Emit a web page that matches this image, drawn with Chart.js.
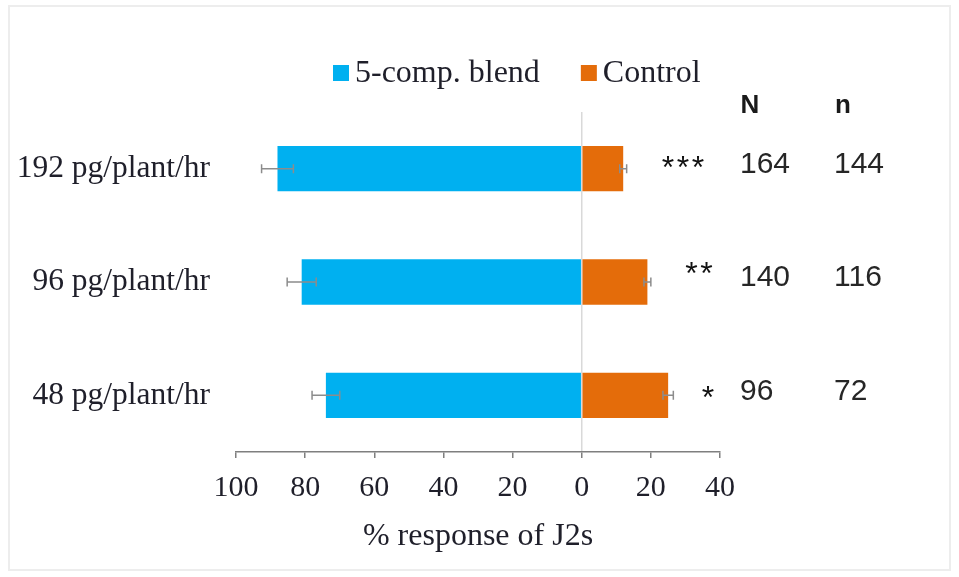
<!DOCTYPE html>
<html>
<head>
<meta charset="utf-8">
<script src="https://cdn.jsdelivr.net/npm/chart.js@4"></script>
<style>
  html, body { margin: 0; padding: 0; background: #fff; }
  #wrap { width: 959px; height: 577px; position: relative; }
</style>
</head>
<body>
<div id="wrap"><canvas id="c" width="959" height="577"></canvas></div>
<script>
// Dose categories (top to bottom)
const doses = ['192 pg/plant/hr', '96 pg/plant/hr', '48 pg/plant/hr'];
// % of J2s choosing each arm, with error
const blendPct = [88, 81, 74];
const blendErr = [4.6, 4.2, 4.0];
const controlPct = [12, 19, 25];
const controlErr = [1.0, 1.0, 1.5];
// Significance and sample sizes per dose
const sigMarks = ['***', '**', '*'];
const totalN = [164, 140, 96];
const respondN = [144, 116, 72];
// Axis range (blend drawn to the left of zero)
const axisMin = -100, axisMax = 40, axisStep = 20;

const SERIF = '"Liberation Serif", "Times New Roman", serif';
const SANS = '"Liberation Sans", Arial, sans-serif';
const BLUE = '#00B0F0', ORANGE = '#E46C0A';
const TEXT = '#1f1f2a';

// Layout of the side annotations
const starX = [683, 699, 708];   // centre of each star group
const starDy = [-7, -14, -3];    // vertical offset from the bar centre
const starPitch = 15;
const colN = 740, coln = 834;

const errorBars = {
  id: 'errorBars',
  afterDatasetsDraw(chart) {
    const { ctx } = chart;
    const xs = chart.scales.x;
    ctx.save();
    ctx.strokeStyle = '#8c8c8c';
    ctx.lineWidth = 1.5;
    chart.data.datasets.forEach((ds, di) => {
      const meta = chart.getDatasetMeta(di);
      meta.data.forEach((bar, i) => {
        const v = ds.data[i], e = ds.errors[i];
        const x1 = xs.getPixelForValue(v - e), x2 = xs.getPixelForValue(v + e);
        const y = bar.y;
        ctx.beginPath();
        ctx.moveTo(x1, y); ctx.lineTo(x2, y);
        ctx.moveTo(x1, y - 4.5); ctx.lineTo(x1, y + 4.5);
        ctx.moveTo(x2, y - 4.5); ctx.lineTo(x2, y + 4.5);
        ctx.stroke();
      });
    });
    ctx.restore();
  }
};

const annotations = {
  id: 'annotations',
  afterDraw(chart) {
    const { ctx } = chart;
    const meta = chart.getDatasetMeta(0);
    ctx.save();

    // faint frame
    ctx.strokeStyle = '#ededed';
    ctx.lineWidth = 2;
    ctx.strokeRect(9, 6, 941, 564);

    // legend
    ctx.font = '32px ' + SERIF;
    ctx.textBaseline = 'middle';
    ctx.textAlign = 'left';
    let lx = 333;
    const ly = 74;
    chart.data.datasets.forEach((ds) => {
      ctx.fillStyle = ds.backgroundColor;
      ctx.fillRect(lx, ly - 9, 16, 16);
      ctx.fillStyle = TEXT;
      ctx.fillText(ds.label, lx + 22, ly);
      lx += 22 + ctx.measureText(ds.label).width + 41;
    });

    // column headers
    ctx.font = 'bold 26px ' + SANS;
    ctx.textAlign = 'center';
    ctx.fillStyle = '#1a1a1a';
    ctx.fillText('N', 750, 106);
    ctx.fillText('n', 843, 106);

    meta.data.forEach((bar, i) => {
      const y = bar.y;
      // significance stars, vertically centred on their glyph box
      ctx.font = '32px ' + SANS;
      ctx.textAlign = 'center';
      ctx.textBaseline = 'alphabetic';
      ctx.fillStyle = '#111';
      const m = ctx.measureText('*');
      const base = y + starDy[i] + (m.actualBoundingBoxAscent - m.actualBoundingBoxDescent) / 2;
      const count = sigMarks[i].length;
      for (let k = 0; k < count; k++) {
        const sx = starX[i] + (k - (count - 1) / 2) * starPitch;
        ctx.fillText('*', sx, base);
      }
      // sample sizes
      ctx.font = '30px ' + SANS;
      ctx.textAlign = 'left';
      ctx.textBaseline = 'middle';
      ctx.fillStyle = '#262626';
      ctx.fillText(String(totalN[i]), colN, y - 4);
      ctx.fillText(String(respondN[i]), coln, y - 4);
    });
    ctx.restore();
  }
};

new Chart(document.getElementById('c'), {
  type: 'bar',
  data: {
    labels: doses,
    datasets: [
      { label: '5-comp. blend', data: blendPct.map(v => -v), errors: blendErr, backgroundColor: BLUE },
      { label: 'Control', data: controlPct, errors: controlErr, backgroundColor: ORANGE }
    ]
  },
  options: {
    indexAxis: 'y',
    responsive: false,
    animation: false,
    layout: { padding: { top: 112, right: 239, left: 0, bottom: 0 } },
    datasets: { bar: { categoryPercentage: 1, barPercentage: 0.4 } },
    plugins: { legend: { display: false }, tooltip: { enabled: false } },
    scales: {
      x: {
        stacked: true,
        min: axisMin, max: axisMax,
        ticks: {
          stepSize: axisStep,
          callback: v => Math.abs(v),
          color: TEXT,
          font: { family: SERIF, size: 30 },
          padding: 12,
          maxRotation: 0,
          autoSkip: false
        },
        grid: {
          color: c => (c.tick && c.tick.value === 0) ? '#d9d9d9' : 'rgba(0,0,0,0)',
          tickColor: '#7f7f7f',
          tickLength: 6,
          lineWidth: 1.5
        },
        border: { color: '#7f7f7f', width: 1.5 },
        title: {
          display: true,
          text: '% response of J2s',
          color: TEXT,
          font: { family: SERIF, size: 32 },
          padding: { top: 0, bottom: 21 }
        },
        afterFit: s => { s.height = 125; }
      },
      y: {
        stacked: true,
        grid: { display: false, drawTicks: false },
        border: { display: false },
        ticks: { color: TEXT, font: { family: SERIF, size: 31.5 }, padding: 26 },
        afterFit: s => { s.width = 236; }
      }
    }
  },
  plugins: [errorBars, annotations]
});
</script>
</body>
</html>
